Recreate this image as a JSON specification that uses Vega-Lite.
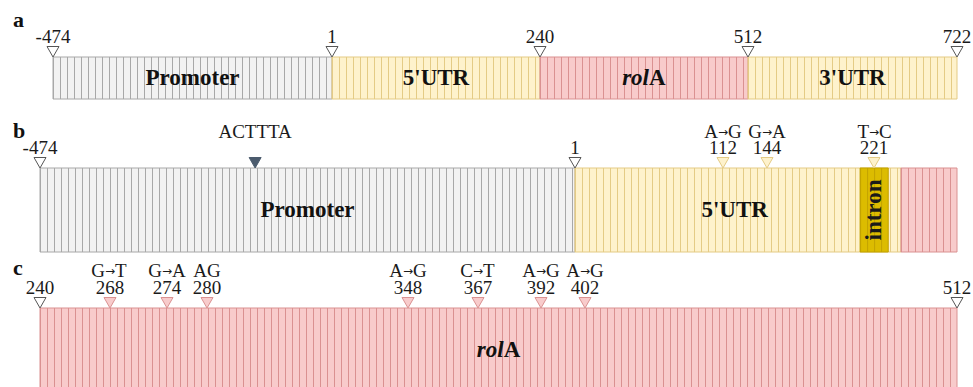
{
  "$schema": "https://vega.github.io/schema/vega-lite/v6.json",
  "width": 973,
  "height": 387,
  "autosize": {"type": "none"},
  "padding": 0,
  "background": "white",
  "config": {"view": {"stroke": null}, "axis": {"disable": true}},
  "datasets": {
    "seg": [
      {"panel": "a", "kind": "promoter", "start": -474, "end": 1, "mid": -236.5, "label": "Promoter"},
      {"panel": "a", "kind": "utr", "start": 1, "end": 240, "mid": 120.5, "label": "5'UTR"},
      {"panel": "a", "kind": "rolA", "start": 240, "end": 512, "mid": 376, "label": "rolA"},
      {"panel": "a", "kind": "utr", "start": 512, "end": 722, "mid": 617, "label": "3'UTR"},
      {"panel": "b", "kind": "promoter", "start": -474, "end": 1, "mid": -236.5, "label": "Promoter"},
      {"panel": "b", "kind": "utr", "start": 1, "end": 240, "mid": 120.5, "label": "5'UTR"},
      {"panel": "b", "kind": "rolA", "start": 240, "end": 280, "mid": 260, "label": ""},
      {"panel": "b", "kind": "intron", "start": 211, "end": 231, "mid": 221, "label": "intron"},
      {"panel": "c", "kind": "rolA", "start": 240, "end": 512, "mid": 376, "label": "rolA"}
    ],
    "mk": [
      {"panel": "a", "pos": -474, "num": "-474", "change": "", "kind": "boundary"},
      {"panel": "a", "pos": 1, "num": "1", "change": "", "kind": "boundary"},
      {"panel": "a", "pos": 240, "num": "240", "change": "", "kind": "boundary"},
      {"panel": "a", "pos": 512, "num": "512", "change": "", "kind": "boundary"},
      {"panel": "a", "pos": 722, "num": "722", "change": "", "kind": "boundary"},
      {"panel": "b", "pos": -474, "num": "-474", "change": "", "kind": "boundary"},
      {"panel": "b", "pos": -283, "num": "", "change": "ACTTTA", "kind": "motif"},
      {"panel": "b", "pos": 1, "num": "1", "change": "", "kind": "boundary"},
      {"panel": "b", "pos": 112, "num": "112", "change": "A→G", "from": "A", "to": "G", "kind": "utr"},
      {"panel": "b", "pos": 144, "num": "144", "change": "G→A", "from": "G", "to": "A", "kind": "utr"},
      {"panel": "b", "pos": 221, "num": "221", "change": "T→C", "from": "T", "to": "C", "kind": "utr"},
      {"panel": "c", "pos": 240, "num": "240", "change": "", "kind": "boundary"},
      {"panel": "c", "pos": 268, "num": "268", "change": "G→T", "from": "G", "to": "T", "kind": "rolA"},
      {"panel": "c", "pos": 274, "num": "274", "change": "G→A", "from": "G", "to": "A", "kind": "rolA"},
      {"panel": "c", "pos": 280, "num": "280", "change": "AG", "kind": "rolA"},
      {"panel": "c", "pos": 348, "num": "348", "change": "A→G", "from": "A", "to": "G", "kind": "rolA"},
      {"panel": "c", "pos": 367, "num": "367", "change": "C→T", "from": "C", "to": "T", "kind": "rolA"},
      {"panel": "c", "pos": 392, "num": "392", "change": "A→G", "from": "A", "to": "G", "kind": "rolA"},
      {"panel": "c", "pos": 402, "num": "402", "change": "A→G", "from": "A", "to": "G", "kind": "rolA"},
      {"panel": "c", "pos": 512, "num": "512", "change": "", "kind": "boundary"}
    ],
    "panels": [
      {"panel": "a", "letter": "a", "first": -474},
      {"panel": "b", "letter": "b", "first": -474},
      {"panel": "c", "letter": "c", "first": 240}
    ]
  },
  "resolve": {"scale": {"x": "independent", "y": "independent"}},
  "layer": [
    {
      "layer": [
        {
          "data": {"name": "seg"},
          "transform": [{"filter": "datum.panel === 'a'"}],
          "mark": {"type": "rect", "strokeWidth": 1},
          "encoding": {
            "x": {"field": "start", "type": "quantitative", "axis": null, "scale": {"domain": [-474, 1, 240, 512, 722], "range": [53, 332, 540, 748, 957], "nice": false, "zero": false}},
            "x2": {"field": "end"},
            "y": {"datum": 0, "type": "quantitative", "axis": null, "scale": {"domain": [0, 1], "range": [99, 57], "nice": false, "zero": false}},
            "y2": {"datum": 1},
            "fill": {"field": "kind", "type": "nominal", "legend": null, "scale": {"domain": ["promoter", "utr", "rolA", "intron", "boundary", "motif"], "range": ["#f2f2f2", "#fef2cc", "#f8cbcb", "#dcbc00", "#ffffff", "#4b5b6d"]}},
            "stroke": {"field": "kind", "type": "nominal", "legend": null, "scale": {"domain": ["promoter", "utr", "rolA", "intron", "boundary", "motif"], "range": ["#a8a8a8", "#e4cb85", "#da9191", "#c2a200", "#555555", "#4b5b6d"]}}
          }
        },
        {
          "data": {"name": "seg"},
          "transform": [{"filter": "datum.panel === 'a'"}],
          "mark": {"type": "rule", "strokeWidth": 42, "strokeDash": [1, 6], "strokeCap": "butt"},
          "encoding": {
            "x": {"field": "start", "type": "quantitative"},
            "x2": {"field": "end"},
            "y": {"datum": 0.5, "type": "quantitative"},
            "stroke": {"field": "kind", "type": "nominal", "legend": null}
          }
        },
        {
          "data": {"name": "mk"},
          "transform": [{"filter": "datum.panel === 'a'"}],
          "mark": {"type": "point", "shape": "M-1,-1.75L1,-1.75L0,0Z", "size": 144, "filled": true, "strokeWidth": 1, "opacity": 1},
          "encoding": {
            "x": {"field": "pos", "type": "quantitative"},
            "y": {"datum": 1, "type": "quantitative"},
            "fill": {"field": "kind", "type": "nominal", "legend": null},
            "stroke": {"field": "kind", "type": "nominal", "legend": null}
          }
        },
        {
          "data": {"name": "mk"},
          "transform": [{"filter": "datum.panel === 'a'"}],
          "mark": {"type": "text", "font": "Liberation Serif", "fontSize": 19, "baseline": "alphabetic", "dy": -14, "color": "#1a1a1a"},
          "encoding": {
            "x": {"field": "pos", "type": "quantitative"},
            "y": {"datum": 1, "type": "quantitative"},
            "text": {"field": "num"}
          }
        },
        {
          "data": {"name": "seg"},
          "transform": [{"filter": "datum.panel === 'a' && datum.label !== '' && datum.kind !== 'rolA' && datum.kind !== 'intron'"}],
          "mark": {"type": "text", "font": "Liberation Serif", "fontSize": 23, "fontWeight": "bold", "baseline": "middle", "color": "#111111"},
          "encoding": {
            "x": {"field": "mid", "type": "quantitative"},
            "y": {"datum": 0.5, "type": "quantitative"},
            "text": {"field": "label"}
          }
        },
        {
          "data": {"name": "seg"},
          "transform": [{"filter": "datum.panel === 'a' && datum.label === 'rolA'"}],
          "mark": {"type": "text", "font": "Liberation Serif", "fontSize": 23, "fontWeight": "bold", "fontStyle": "italic", "baseline": "middle", "align": "right", "dx": 5, "color": "#111111", "text": "rol"},
          "encoding": {
            "x": {"field": "mid", "type": "quantitative"},
            "y": {"datum": 0.5, "type": "quantitative"}
          }
        },
        {
          "data": {"name": "seg"},
          "transform": [{"filter": "datum.panel === 'a' && datum.label === 'rolA'"}],
          "mark": {"type": "text", "font": "Liberation Serif", "fontSize": 23, "fontWeight": "bold", "baseline": "middle", "align": "left", "dx": 5, "color": "#111111", "text": "A"},
          "encoding": {
            "x": {"field": "mid", "type": "quantitative"},
            "y": {"datum": 0.5, "type": "quantitative"}
          }
        },
        {
          "data": {"name": "panels"},
          "transform": [{"filter": "datum.panel === 'a'"}],
          "mark": {"type": "text", "font": "Liberation Serif", "fontSize": 22, "fontWeight": "bold", "baseline": "alphabetic", "align": "left", "dx": -40, "dy": -30, "color": "#111111"},
          "encoding": {
            "x": {"field": "first", "type": "quantitative"},
            "y": {"datum": 1, "type": "quantitative"},
            "text": {"field": "letter"}
          }
        }
      ]
    },
    {
      "layer": [
        {
          "data": {"name": "seg"},
          "transform": [{"filter": "datum.panel === 'b' && datum.kind !== 'intron'"}],
          "mark": {"type": "rect", "strokeWidth": 1},
          "encoding": {
            "x": {"field": "start", "type": "quantitative", "axis": null, "scale": {"domain": [-474, 1, 112, 144, 221, 240, 280], "range": [40, 575, 723, 767, 874, 901, 957], "nice": false, "zero": false}},
            "x2": {"field": "end"},
            "y": {"datum": 0, "type": "quantitative", "axis": null, "scale": {"domain": [0, 1], "range": [252, 168], "nice": false, "zero": false}},
            "y2": {"datum": 1},
            "fill": {"field": "kind", "type": "nominal", "legend": null},
            "stroke": {"field": "kind", "type": "nominal", "legend": null}
          }
        },
        {
          "data": {"name": "seg"},
          "transform": [{"filter": "datum.panel === 'b' && datum.kind !== 'intron'"}],
          "mark": {"type": "rule", "strokeWidth": 84, "strokeDash": [1, 6], "strokeCap": "butt"},
          "encoding": {
            "x": {"field": "start", "type": "quantitative"},
            "x2": {"field": "end"},
            "y": {"datum": 0.5, "type": "quantitative"},
            "stroke": {"field": "kind", "type": "nominal", "legend": null}
          }
        },
        {
          "data": {"name": "seg"},
          "transform": [{"filter": "datum.panel === 'b' && datum.kind === 'intron'"}],
          "mark": {"type": "rect", "strokeWidth": 1},
          "encoding": {
            "x": {"field": "start", "type": "quantitative"},
            "x2": {"field": "end"},
            "y": {"datum": 0, "type": "quantitative"},
            "y2": {"datum": 1},
            "fill": {"field": "kind", "type": "nominal", "legend": null},
            "stroke": {"field": "kind", "type": "nominal", "legend": null}
          }
        },
        {
          "data": {"name": "seg"},
          "transform": [{"filter": "datum.panel === 'b' && datum.kind === 'intron'"}],
          "mark": {"type": "rule", "strokeWidth": 84, "strokeDash": [1, 6], "strokeCap": "butt"},
          "encoding": {
            "x": {"field": "start", "type": "quantitative"},
            "x2": {"field": "end"},
            "y": {"datum": 0.5, "type": "quantitative"},
            "stroke": {"field": "kind", "type": "nominal", "legend": null}
          }
        },
        {
          "data": {"name": "mk"},
          "transform": [{"filter": "datum.panel === 'b'"}],
          "mark": {"type": "point", "shape": "M-1,-1.75L1,-1.75L0,0Z", "size": 144, "filled": true, "strokeWidth": 1, "opacity": 1},
          "encoding": {
            "x": {"field": "pos", "type": "quantitative"},
            "y": {"datum": 1, "type": "quantitative"},
            "fill": {"field": "kind", "type": "nominal", "legend": null},
            "stroke": {"field": "kind", "type": "nominal", "legend": null}
          }
        },
        {
          "data": {"name": "mk"},
          "transform": [{"filter": "datum.panel === 'b'"}],
          "mark": {"type": "text", "font": "Liberation Serif", "fontSize": 19, "baseline": "alphabetic", "dy": -14, "color": "#1a1a1a"},
          "encoding": {
            "x": {"field": "pos", "type": "quantitative"},
            "y": {"datum": 1, "type": "quantitative"},
            "text": {"field": "num"}
          }
        },
        {
          "data": {"name": "mk"},
          "transform": [{"filter": "datum.panel === 'b' && !datum.from"}],
          "mark": {"type": "text", "font": "Liberation Serif", "fontSize": 19, "baseline": "alphabetic", "dy": -30, "color": "#1a1a1a"},
          "encoding": {
            "x": {"field": "pos", "type": "quantitative"},
            "y": {"datum": 1, "type": "quantitative"},
            "text": {"field": "change"}
          }
        },
        {
          "data": {"name": "mk"},
          "transform": [{"filter": "datum.panel === 'b' && datum.from"}],
          "mark": {"type": "text", "font": "Liberation Serif", "fontSize": 19, "baseline": "alphabetic", "align": "right", "dx": -5, "dy": -30, "color": "#1a1a1a"},
          "encoding": {
            "x": {"field": "pos", "type": "quantitative"},
            "y": {"datum": 1, "type": "quantitative"},
            "text": {"field": "from"}
          }
        },
        {
          "data": {"name": "mk"},
          "transform": [{"filter": "datum.panel === 'b' && datum.from"}],
          "mark": {"type": "text", "font": "DejaVu Sans", "fontSize": 12, "baseline": "alphabetic", "align": "center", "dy": -32, "color": "#1a1a1a", "text": "→"},
          "encoding": {
            "x": {"field": "pos", "type": "quantitative"},
            "y": {"datum": 1, "type": "quantitative"}
          }
        },
        {
          "data": {"name": "mk"},
          "transform": [{"filter": "datum.panel === 'b' && datum.from"}],
          "mark": {"type": "text", "font": "Liberation Serif", "fontSize": 19, "baseline": "alphabetic", "align": "left", "dx": 5, "dy": -30, "color": "#1a1a1a"},
          "encoding": {
            "x": {"field": "pos", "type": "quantitative"},
            "y": {"datum": 1, "type": "quantitative"},
            "text": {"field": "to"}
          }
        },
        {
          "data": {"name": "seg"},
          "transform": [{"filter": "datum.panel === 'b' && datum.label !== '' && datum.kind !== 'rolA' && datum.kind !== 'intron'"}],
          "mark": {"type": "text", "font": "Liberation Serif", "fontSize": 23, "fontWeight": "bold", "baseline": "middle", "color": "#111111"},
          "encoding": {
            "x": {"field": "mid", "type": "quantitative"},
            "y": {"datum": 0.5, "type": "quantitative"},
            "text": {"field": "label"}
          }
        },
        {
          "data": {"name": "seg"},
          "transform": [{"filter": "datum.panel === 'b' && datum.kind === 'intron'"}],
          "mark": {"type": "text", "font": "Liberation Serif", "fontSize": 23, "fontWeight": "bold", "baseline": "middle", "angle": 270, "color": "#1a1a1a"},
          "encoding": {
            "x": {"field": "mid", "type": "quantitative"},
            "y": {"datum": 0.5, "type": "quantitative"},
            "text": {"field": "label"}
          }
        },
        {
          "data": {"name": "panels"},
          "transform": [{"filter": "datum.panel === 'b'"}],
          "mark": {"type": "text", "font": "Liberation Serif", "fontSize": 22, "fontWeight": "bold", "baseline": "alphabetic", "align": "left", "dx": -27, "dy": -30, "color": "#111111"},
          "encoding": {
            "x": {"field": "first", "type": "quantitative"},
            "y": {"datum": 1, "type": "quantitative"},
            "text": {"field": "letter"}
          }
        }
      ]
    },
    {
      "layer": [
        {
          "data": {"name": "seg"},
          "transform": [{"filter": "datum.panel === 'c'"}],
          "mark": {"type": "rect", "strokeWidth": 1},
          "encoding": {
            "x": {"field": "start", "type": "quantitative", "axis": null, "scale": {"domain": [240, 268, 274, 280, 348, 367, 392, 402, 512], "range": [40, 110, 167, 207, 408, 478, 541, 585, 957], "nice": false, "zero": false}},
            "x2": {"field": "end"},
            "y": {"datum": 0, "type": "quantitative", "axis": null, "scale": {"domain": [0, 1], "range": [392, 308], "nice": false, "zero": false}},
            "y2": {"datum": 1},
            "fill": {"field": "kind", "type": "nominal", "legend": null},
            "stroke": {"field": "kind", "type": "nominal", "legend": null}
          }
        },
        {
          "data": {"name": "seg"},
          "transform": [{"filter": "datum.panel === 'c'"}],
          "mark": {"type": "rule", "strokeWidth": 84, "strokeDash": [1, 6], "strokeCap": "butt"},
          "encoding": {
            "x": {"field": "start", "type": "quantitative"},
            "x2": {"field": "end"},
            "y": {"datum": 0.5, "type": "quantitative"},
            "stroke": {"field": "kind", "type": "nominal", "legend": null}
          }
        },
        {
          "data": {"name": "mk"},
          "transform": [{"filter": "datum.panel === 'c'"}],
          "mark": {"type": "point", "shape": "M-1,-1.75L1,-1.75L0,0Z", "size": 144, "filled": true, "strokeWidth": 1, "opacity": 1},
          "encoding": {
            "x": {"field": "pos", "type": "quantitative"},
            "y": {"datum": 1, "type": "quantitative"},
            "fill": {"field": "kind", "type": "nominal", "legend": null},
            "stroke": {"field": "kind", "type": "nominal", "legend": null}
          }
        },
        {
          "data": {"name": "mk"},
          "transform": [{"filter": "datum.panel === 'c'"}],
          "mark": {"type": "text", "font": "Liberation Serif", "fontSize": 19, "baseline": "alphabetic", "dy": -14, "color": "#1a1a1a"},
          "encoding": {
            "x": {"field": "pos", "type": "quantitative"},
            "y": {"datum": 1, "type": "quantitative"},
            "text": {"field": "num"}
          }
        },
        {
          "data": {"name": "mk"},
          "transform": [{"filter": "datum.panel === 'c' && !datum.from"}],
          "mark": {"type": "text", "font": "Liberation Serif", "fontSize": 19, "baseline": "alphabetic", "dy": -31, "color": "#1a1a1a"},
          "encoding": {
            "x": {"field": "pos", "type": "quantitative"},
            "y": {"datum": 1, "type": "quantitative"},
            "text": {"field": "change"}
          }
        },
        {
          "data": {"name": "mk"},
          "transform": [{"filter": "datum.panel === 'c' && datum.from"}],
          "mark": {"type": "text", "font": "Liberation Serif", "fontSize": 19, "baseline": "alphabetic", "align": "right", "dx": -5, "dy": -31, "color": "#1a1a1a"},
          "encoding": {
            "x": {"field": "pos", "type": "quantitative"},
            "y": {"datum": 1, "type": "quantitative"},
            "text": {"field": "from"}
          }
        },
        {
          "data": {"name": "mk"},
          "transform": [{"filter": "datum.panel === 'c' && datum.from"}],
          "mark": {"type": "text", "font": "DejaVu Sans", "fontSize": 12, "baseline": "alphabetic", "align": "center", "dy": -33, "color": "#1a1a1a", "text": "→"},
          "encoding": {
            "x": {"field": "pos", "type": "quantitative"},
            "y": {"datum": 1, "type": "quantitative"}
          }
        },
        {
          "data": {"name": "mk"},
          "transform": [{"filter": "datum.panel === 'c' && datum.from"}],
          "mark": {"type": "text", "font": "Liberation Serif", "fontSize": 19, "baseline": "alphabetic", "align": "left", "dx": 5, "dy": -31, "color": "#1a1a1a"},
          "encoding": {
            "x": {"field": "pos", "type": "quantitative"},
            "y": {"datum": 1, "type": "quantitative"},
            "text": {"field": "to"}
          }
        },
        {
          "data": {"name": "seg"},
          "transform": [{"filter": "datum.panel === 'c' && datum.label === 'rolA'"}],
          "mark": {"type": "text", "font": "Liberation Serif", "fontSize": 23, "fontWeight": "bold", "fontStyle": "italic", "baseline": "middle", "align": "right", "dx": 3, "color": "#111111", "text": "rol"},
          "encoding": {
            "x": {"field": "mid", "type": "quantitative"},
            "y": {"datum": 0.5, "type": "quantitative"}
          }
        },
        {
          "data": {"name": "seg"},
          "transform": [{"filter": "datum.panel === 'c' && datum.label === 'rolA'"}],
          "mark": {"type": "text", "font": "Liberation Serif", "fontSize": 23, "fontWeight": "bold", "baseline": "middle", "align": "left", "dx": 3, "color": "#111111", "text": "A"},
          "encoding": {
            "x": {"field": "mid", "type": "quantitative"},
            "y": {"datum": 0.5, "type": "quantitative"}
          }
        },
        {
          "data": {"name": "panels"},
          "transform": [{"filter": "datum.panel === 'c'"}],
          "mark": {"type": "text", "font": "Liberation Serif", "fontSize": 22, "fontWeight": "bold", "baseline": "alphabetic", "align": "left", "dx": -27, "dy": -33, "color": "#111111"},
          "encoding": {
            "x": {"field": "first", "type": "quantitative"},
            "y": {"datum": 1, "type": "quantitative"},
            "text": {"field": "letter"}
          }
        }
      ]
    }
  ]
}
